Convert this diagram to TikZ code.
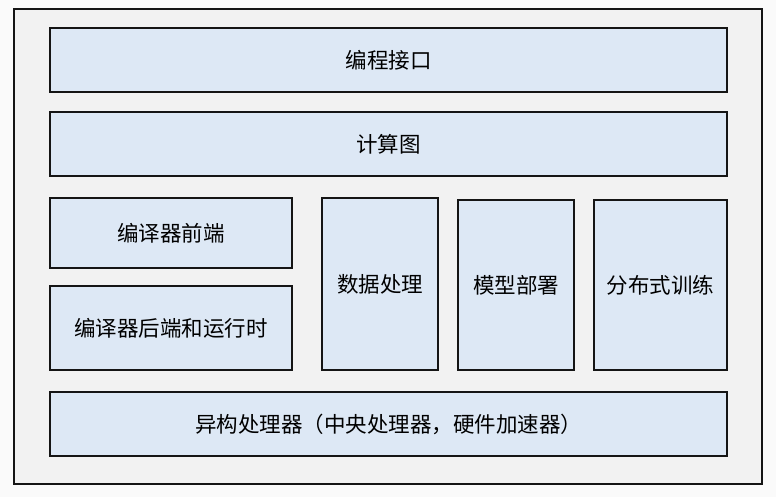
\documentclass[tikz,border=0pt]{standalone}
\usepackage{fontspec}
\newfontfamily\cjk{Noto Sans CJK SC}
\definecolor{pagebg}{HTML}{FAFAFA}
\definecolor{framebg}{HTML}{F2F2F2}
\definecolor{boxbg}{HTML}{DDE8F5}
\definecolor{edge}{HTML}{151515}
\begin{document}
\begin{tikzpicture}[x=1pt,y=-1pt,
  layer/.style={draw=edge,line width=2pt,fill=boxbg,inner sep=0pt,
    font=\cjk\fontsize{21.5}{24}\selectfont,text=black}]
\fill[pagebg] (0,0) rectangle (776,497);
\useasboundingbox (0,0) rectangle (776,497);
\node[draw=edge,line width=2pt,fill=framebg,minimum width=748pt,minimum height=474pt,inner sep=0pt] (frame) at (388,246.5) {};
\node[layer,minimum width=677pt,minimum height=64pt] (api) at (388.5,60) {编程接口};
\node[layer,minimum width=677pt,minimum height=64pt] (graph) at (388.5,144) {计算图};
\node[layer,minimum width=242pt,minimum height=70pt] (front) at (171,233) {编译器前端};
\node[layer,minimum width=242pt,minimum height=84pt] (back) at (171,328) {编译器后端和运行时};
\node[layer,minimum width=116pt,minimum height=172pt] (data) at (380,284) {数据处理};
\node[layer,minimum width=116pt,minimum height=170pt] (deploy) at (516,285) {模型部署};
\node[layer,minimum width=133pt,minimum height=170pt] (dist) at (660.5,285) {分布式训练};
\node[layer,minimum width=677pt,minimum height=64pt] (hw) at (388.5,424) {异构处理器（中央处理器，硬件加速器）};
\end{tikzpicture}
\end{document}
